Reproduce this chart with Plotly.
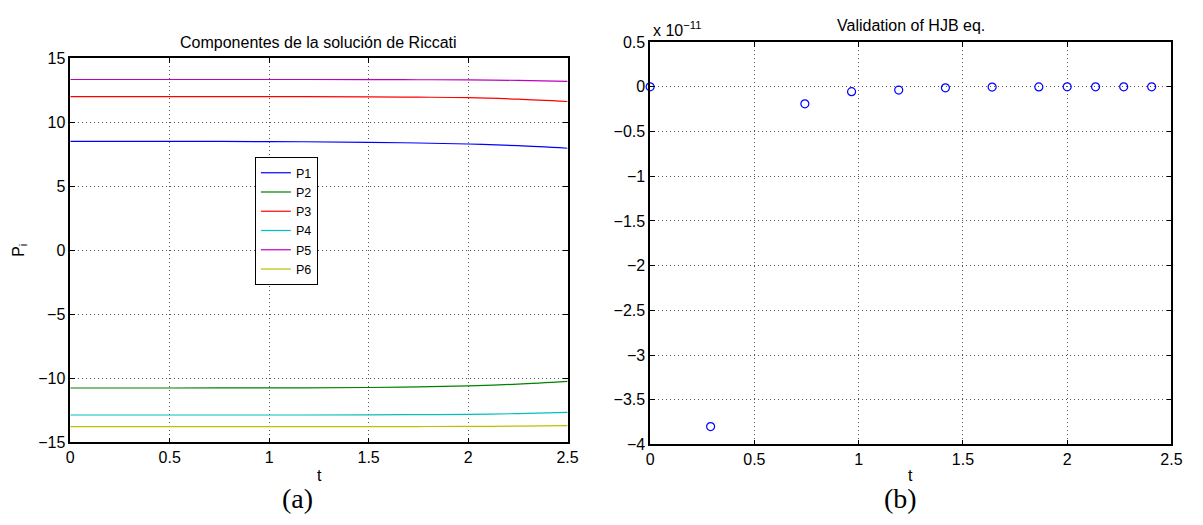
import plotly.graph_objects as go

# ---- data (left: Riccati components) ----
t_ric = [0.0, 0.5, 1.0, 1.5, 1.75, 2.0, 2.25, 2.5]
P1 = [8.50, 8.50, 8.49, 8.43, 8.38, 8.30, 8.17, 7.97]
P2 = [-10.76, -10.76, -10.75, -10.72, -10.68, -10.60, -10.46, -10.25]
P3 = [12.00, 12.00, 12.00, 11.98, 11.96, 11.92, 11.80, 11.62]
P4 = [-12.87, -12.87, -12.87, -12.86, -12.84, -12.82, -12.76, -12.66]
P5 = [13.34, 13.34, 13.34, 13.33, 13.32, 13.31, 13.27, 13.19]
P6 = [-13.78, -13.78, -13.78, -13.78, -13.77, -13.76, -13.74, -13.70]
series_names = ["P1", "P2", "P3", "P4", "P5", "P6"]
series_colors = ["#0000FF", "#008000", "#FF0000", "#00BFBF", "#BF00BF", "#BFBF00"]

# ---- data (right: HJB validation, units of 1e-11) ----
t_hjb = [0.0, 0.29, 0.742, 0.966, 1.192, 1.416, 1.640, 1.864, 2.0, 2.136, 2.271, 2.405]
hjb_e11 = [0.0, -3.80, -0.19, -0.054, -0.036, -0.011, -0.003, -0.001, 0.0, 0.0, 0.0, 0.0]

x_ticks = [0, 0.5, 1, 1.5, 2, 2.5]
x_ticktext = ["0", "0.5", "1", "1.5", "2", "2.5"]
yl_ticks = [-15, -10, -5, 0, 5, 10, 15]
yl_ticktext = ["\u221215", "\u221210", "\u22125", "0", "5", "10", "15"]
yr_ticks = [-4, -3.5, -3, -2.5, -2, -1.5, -1, -0.5, 0, 0.5]
yr_ticktext = ["\u22124", "\u22123.5", "\u22123", "\u22122.5", "\u22122", "\u22121.5",
               "\u22121", "\u22120.5", "0", "0.5"]

# page body has an 8px margin: figure sized to fit inside the 1203x525 window
OFF = 8
W, H = 1203 - 2 * OFF, 525 - 2 * OFF
FONT = "Liberation Sans, Arial, Helvetica, sans-serif"

fig = go.Figure()
for name, vals, col in zip(series_names, [P1, P2, P3, P4, P5, P6], series_colors):
    fig.add_trace(go.Scatter(x=t_ric, y=vals, mode="lines", name=name,
                             line=dict(color=col, width=1.2, shape="spline"),
                             xaxis="x", yaxis="y"))

fig.add_trace(go.Scatter(x=t_hjb, y=hjb_e11, mode="markers", showlegend=False,
                         marker=dict(symbol="circle-open", size=8, color="#0000FF",
                                     line=dict(width=1.2, color="#0000FF")),
                         cliponaxis=False, xaxis="x2", yaxis="y2"))

def px(x):
    return (x - OFF) / W

def py(y):
    return 1 - (y - OFF) / H

axis_common = dict(showline=True, linecolor="black", linewidth=1.5, mirror="ticks",
                   ticks="inside", ticklen=5, tickwidth=1, tickcolor="black",
                   showgrid=True, gridcolor="#555555", griddash="1px,3px", gridwidth=1,
                   zeroline=False, tickfont=dict(family=FONT, size=16, color="black"))

fig.update_layout(
    width=W, height=H,
    margin=dict(l=0, r=0, t=0, b=0),
    paper_bgcolor="white", plot_bgcolor="white",
    font=dict(family=FONT, size=16, color="black"),
    xaxis=dict(domain=[px(67), px(570.7)], range=[0, 2.5], tickvals=x_ticks,
               ticktext=x_ticktext, **axis_common),
    yaxis=dict(domain=[py(449), py(51.7)], range=[-15, 15], tickvals=yl_ticks,
               ticktext=yl_ticktext, **axis_common),
    xaxis2=dict(domain=[px(654.3), px(1182.3)], range=[0, 2.5], tickvals=x_ticks,
                ticktext=x_ticktext, anchor="y2", **axis_common),
    yaxis2=dict(domain=[py(451.3), py(35)], range=[-4, 0.5], tickvals=yr_ticks,
                ticktext=yr_ticktext, anchor="x2", **axis_common),
    legend=dict(x=px(254), y=py(154), xanchor="left", yanchor="top",
                bgcolor="white", bordercolor="black", borderwidth=1,
                font=dict(family=FONT, size=12.5, color="black"),
                itemwidth=30, tracegroupgap=0, entrywidth=62, entrywidthmode="pixels"),
    showlegend=True,
)

ann = [
    dict(text="Componentes de la soluci\u00f3n de Riccati", x=px(318.8), y=py(35),
         xanchor="center", yanchor="middle", font=dict(size=16)),
    dict(text="Validation of HJB eq.", x=px(918), y=py(18.3),
         xanchor="center", yanchor="middle", font=dict(size=16)),
    dict(text="x 10<sup>\u221211</sup>", x=px(655), y=py(34),
         xanchor="left", yanchor="bottom", font=dict(size=16)),
    dict(text="t", x=px(319), y=py(483), xanchor="center", yanchor="middle",
         font=dict(size=16)),
    dict(text="t", x=px(918), y=py(483), xanchor="center", yanchor="middle",
         font=dict(size=16)),
    dict(text="P<sub>i</sub>", x=px(16), y=py(250), xanchor="center", yanchor="middle",
         textangle=-90, font=dict(size=16)),
    dict(text="(a)", x=px(297), y=py(507), xanchor="center", yanchor="middle",
         font=dict(family="Liberation Serif, Times New Roman, serif", size=28)),
    dict(text="(b)", x=px(908), y=py(507), xanchor="center", yanchor="middle",
         font=dict(family="Liberation Serif, Times New Roman, serif", size=28)),
]
for a in ann:
    a.update(xref="paper", yref="paper", showarrow=False)
fig.update_layout(annotations=ann)

fig.write_html("out.html")
